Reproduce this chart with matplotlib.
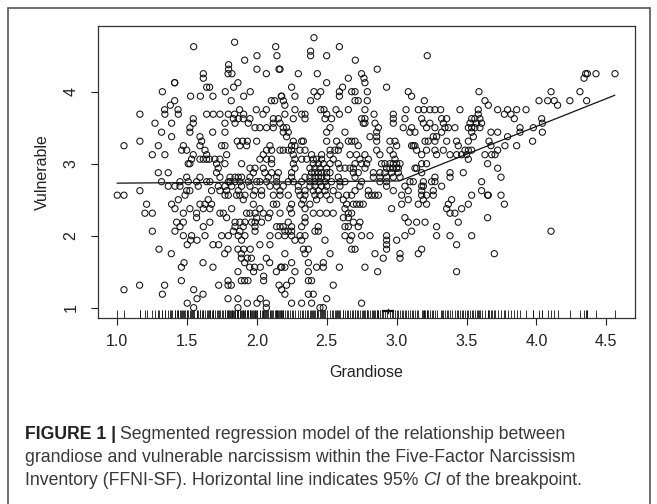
import numpy as np
import matplotlib.pyplot as plt

# Grandiose (x) / Vulnerable (y) scores

upper_left = [
    (1.547, 4.625), (1.84, 4.6875), (2.134, 4.625), (2.143, 4.5), (2.0, 4.5), (1.912, 4.4375),
    (1.797, 4.375), (1.797, 4.3125), (1.821, 4.25), (1.793, 4.25), (2.0, 4.3125), (2.067, 4.25),
    (2.158, 4.3125), (1.616, 4.25), (1.616, 4.1875), (1.411, 4.125), (1.411, 4.125), (1.864, 4.125),
    (1.64, 4.0625), (1.661, 4.0625), (1.685, 3.9375), (1.833, 4.0625), (1.773, 4.0), (1.323, 4.0),
    (1.525, 3.9375), (1.595, 3.9375), (1.952, 4.0), (1.905, 3.9375), (1.816, 3.875), (1.411, 3.875),
    (1.38, 3.8125), (1.339, 3.75), (1.435, 3.75), (1.876, 3.75), (1.995, 3.75), (2.067, 3.75),
    (2.103, 3.875), (2.127, 3.875), (2.174, 3.9375), (1.84, 3.6875), (1.905, 3.6875), (2.043, 3.6875),
    (1.0, 2.5625),
]

# left band: vulnerable level -> grandiose values on that row
left_rows = [
    (3.6875, [1.162, 1.341, 1.437, 1.640, 1.687, 1.735, 1.795]),
    (3.625, [1.544]),
    (3.5625, [1.270, 1.389, 1.544, 1.771]),
    (3.5, [1.52]),
    (3.4375, [1.317, 1.52, 1.683, 1.771]),
    (3.375, [1.389, 1.592]),
    (3.3125, [1.162, 1.604]),
    (3.25, [1.048, 1.294, 1.473, 1.592, 1.747, 1.771]),
    (3.1875, [1.461, 1.497, 1.628]),
    (3.125, [1.251, 1.341, 1.544, 1.640, 1.783]),
    (3.0625, [1.532, 1.592, 1.616, 1.640, 1.659, 1.699, 1.735]),
    (3.0, [1.508, 1.52, 1.711, 1.771]),
    (2.9375, [1.723]),
    (2.875, [1.294, 1.365, 1.711]),
    (2.8125, [1.497, 1.592, 1.735]),
    (2.75, [1.317, 1.449, 1.508, 1.568, 1.640, 1.663, 1.795]),
    (2.6875, [1.365, 1.413, 1.449, 1.580, 1.723, 1.771]),
    (2.625, [1.162, 1.497, 1.52, 1.675, 1.735, 1.783]),
    (2.5625, [1.048, 1.485, 1.771, 1.795]),
    (2.5, [1.437, 1.651]),
    (2.4375, [1.210, 1.389, 1.592, 1.628, 1.675]),
    (2.375, [1.413, 1.52, 1.616, 1.663]),
    (2.3125, [1.198, 1.251, 1.473, 1.568, 1.735, 1.759]),
    (2.25, [1.568, 1.783]),
    (2.1875, [1.425, 1.473, 1.663]),
    (2.125, [1.449, 1.616]),
    (2.0625, [1.251, 1.413]),
    (2.0, [1.473, 1.532, 1.628, 1.747, 1.795]),
]

lower_left = [
    (1.525, 1.9375), (1.571, 1.9375), (1.299, 1.8125), (1.387, 1.75), (1.501, 1.875), (1.478, 1.625),
    (1.459, 1.5625), (1.614, 1.625), (1.685, 1.5625), (1.685, 1.875), (1.726, 1.875), (1.769, 1.75),
    (1.793, 1.8125), (1.864, 1.8125), (1.905, 1.8125), (1.952, 1.8125), (1.888, 1.75), (1.888, 1.6875),
    (1.931, 1.6875), (1.96, 1.6875), (1.912, 1.625), (1.948, 1.5625), (1.983, 1.5625), (2.067, 1.6875),
    (2.091, 1.625), (2.024, 1.5625), (1.864, 1.5), (1.976, 1.5), (2.139, 1.5), (2.17, 1.5625),
    (2.048, 1.4375), (2.048, 1.375), (1.888, 1.375), (1.912, 1.375), (1.936, 1.375), (1.726, 1.3125),
    (1.793, 1.3125), (1.816, 1.3125), (1.793, 1.375), (1.048, 1.25), (1.16, 1.3125), (1.323, 1.1875),
    (1.339, 1.3125), (1.459, 1.375), (1.547, 1.25), (1.571, 1.125), (1.614, 1.1875), (1.501, 1.0625),
    (1.547, 1.0), (1.793, 1.125), (1.864, 1.125), (1.931, 1.0625), (1.864, 1.0), (2.0, 1.0625),
    (2.024, 1.125), (2.067, 1.0625), (2.067, 1.0), (2.158, 1.3125),
]

upper_mid = [
    (2.408, 4.75), (2.59, 4.625), (2.384, 4.5625), (2.384, 4.5), (2.499, 4.5), (2.704, 4.4375),
    (3.219, 4.5), (2.165, 4.3125), (2.296, 4.25), (2.432, 4.25), (2.654, 4.1875), (2.749, 4.25),
    (2.766, 4.1875), (2.773, 4.125), (2.861, 4.3125), (2.499, 4.125), (2.248, 4.0625), (2.613, 4.0625),
    (2.928, 4.0625), (2.408, 4.0), (2.456, 4.0), (2.432, 3.9375), (2.59, 4.0), (2.59, 3.9375),
    (2.678, 4.0), (2.702, 4.0), (2.79, 4.0), (2.702, 3.875), (2.725, 3.875), (2.79, 3.875),
    (2.384, 3.875), (2.177, 3.9375), (2.189, 3.875), (2.2, 3.8125), (2.272, 3.9375), (3.083, 4.0),
    (3.107, 3.9375), (3.198, 3.875), (2.272, 3.75), (2.32, 3.6875), (2.344, 3.6875), (2.456, 3.75),
    (2.48, 3.75), (2.499, 3.6875), (2.566, 3.75), (2.59, 3.6875), (2.654, 3.75), (2.773, 3.75),
    (2.838, 3.6875), (2.976, 3.6875), (3.067, 3.75), (3.155, 3.75), (3.195, 3.75), (3.238, 3.75),
    (3.274, 3.75), (3.315, 3.75), (3.453, 3.75), (2.2, 3.6875), (3.584, 3.75), (3.584, 3.6875),
    (3.589, 4.0), (3.596, 3.625),
]

lower_mid = [
    (2.332, 1.8125), (2.368, 1.8125), (2.678, 1.8125), (2.702, 1.8125), (2.928, 1.8125), (3.179, 1.8125),
    (2.2, 1.75), (2.344, 1.75), (2.523, 1.75), (2.845, 1.75), (3.024, 1.75), (3.155, 1.75),
    (2.904, 1.6875), (3.024, 1.6875), (2.248, 1.625), (2.368, 1.625), (2.475, 1.625), (2.177, 1.5625),
    (2.2, 1.5625), (2.427, 1.5625), (2.475, 1.5625), (2.59, 1.5625), (2.773, 1.5625), (2.272, 1.5),
    (2.368, 1.5), (2.864, 1.5), (3.429, 1.5), (2.248, 1.375), (2.368, 1.375), (2.391, 1.375),
    (2.212, 1.3125), (2.546, 1.3125), (2.177, 1.25), (2.2, 1.1875), (2.368, 1.1875), (2.403, 1.1875),
    (2.499, 1.125), (2.248, 1.0625), (2.32, 1.0625), (2.391, 1.0625), (2.749, 1.0625), (2.451, 1.0),
    (2.475, 1.0),
]

right_side = [
    (4.353, 4.25), (4.365, 4.25), (4.341, 4.1875), (4.427, 4.25), (4.563, 4.25), (4.105, 4.0),
    (4.312, 4.0), (3.632, 3.875), (3.656, 3.8125), (4.019, 3.875), (4.081, 3.875), (4.128, 3.875),
    (4.152, 3.8125), (4.24, 3.875), (4.36, 3.875), (3.723, 3.75), (3.771, 3.6875), (3.794, 3.75),
    (3.818, 3.6875), (3.859, 3.75), (3.842, 3.625), (3.926, 3.75), (3.675, 3.4375), (3.723, 3.4375),
    (3.794, 3.375), (3.883, 3.5), (3.883, 3.4375), (3.978, 3.5), (4.038, 3.625), (4.043, 3.5625),
    (4.043, 3.4375), (3.661, 3.3125), (3.675, 3.25), (3.723, 3.1875), (3.775, 3.25), (3.859, 3.25),
    (3.973, 3.3125), (3.632, 3.125), (3.68, 3.125), (3.704, 3.125), (3.651, 3.0), (3.723, 2.9375),
    (3.747, 2.8125), (3.651, 2.5625), (3.656, 2.5625), (3.747, 2.5625), (3.771, 2.4375), (3.651, 2.25),
    (4.105, 2.0625), (3.699, 1.75),
]

# dense middle band: vulnerable level -> grandiose values on that row
center_rows = [
    (3.625, [1.831, 1.866, 1.902, 1.950, 2.117, 2.153, 2.260, 2.344, 2.487, 2.534,
             2.749, 2.773, 2.976, 3.059, 3.179, 3.322, 3.358, 3.537, 3.560]),
    (3.5625, [1.843, 1.938, 2.117, 2.165, 2.761, 2.773, 2.845, 2.976, 3.191, 3.238, 3.334,
              3.525, 3.572, 3.608]),
    (3.5, [1.986, 2.021, 2.069, 2.117, 2.188, 2.212, 2.523, 2.869, 3.047, 3.107, 3.214, 3.274,
           3.346, 3.370, 3.417, 3.513, 3.537, 3.560, 3.596]),
    (3.4375, [2.188, 2.224, 2.499, 2.630, 2.857, 3.095, 3.131, 3.322, 3.537]),
    (3.375, [2.212, 2.809, 2.857, 3.262, 3.286, 3.549]),
    (3.3125, [1.859, 1.897, 1.931, 1.998, 2.260, 2.320, 2.332, 2.499, 2.570, 2.654, 2.678,
              2.702, 2.857, 2.952, 2.988, 3.203, 3.226, 3.274, 3.358, 3.429, 3.513]),
    (3.25, [1.878, 1.926, 2.093, 2.248, 2.272, 2.594, 2.725, 3.000, 3.107, 3.119, 3.131, 3.441]),
    (3.1875, [2.069, 2.105, 2.165, 2.188, 2.224, 2.248, 2.308, 2.344, 2.523, 2.558, 2.582,
              2.857, 2.952, 3.143, 3.214, 3.274, 3.334, 3.489, 3.513, 3.537]),
    (3.125, [2.045, 2.260, 2.391, 2.463, 2.523, 2.666, 2.713, 2.773, 2.880, 2.976, 3.179, 3.286,
             3.382, 3.429, 3.465, 3.501]),
    (3.0625, [2.021, 2.069, 2.105, 2.272, 2.320, 2.356, 2.403, 2.427, 2.463, 2.546,
              2.737, 2.797, 2.988, 3.513]),
    (3.0, [1.890, 2.105, 2.260, 2.403, 2.439, 2.475, 2.523, 2.582, 2.702, 2.749, 2.785, 2.892,
           2.916, 2.952, 2.976, 3.000, 3.024, 3.179, 3.214]),
    (2.9375, [1.950, 1.986, 2.045, 2.272, 2.379, 2.415, 2.451, 2.499, 2.594, 2.630, 2.666, 2.690,
              2.773, 2.928, 2.952, 2.976, 3.000, 3.012, 3.131, 3.143]),
    (2.875, [1.974, 2.057, 2.105, 2.153, 2.248, 2.391, 2.415, 2.439, 2.463, 2.499, 2.523, 2.690,
             2.725, 2.833, 2.880, 2.916, 2.964, 3.012, 3.179, 3.382, 3.477]),
    (2.8125, [1.807, 1.843, 1.866, 1.890, 1.950, 2.081, 2.141, 2.248, 2.344, 2.379, 2.415, 2.439,
              2.463, 2.499, 2.582, 2.702, 2.833, 2.880, 2.928, 2.976, 3.024, 3.274, 3.382]),
    (2.75, [1.807, 1.843, 1.878, 1.938, 1.998, 2.021, 2.069, 2.141, 2.224, 2.260, 2.320, 2.379,
            2.415, 2.451, 2.487, 2.534, 2.594, 2.630, 2.749, 2.880, 2.928, 3.095, 3.119, 3.191,
            3.250, 3.274, 3.608]),
    (2.6875, [1.819, 1.890, 1.950, 2.093, 2.141, 2.188, 2.296, 2.379, 2.415, 2.463, 2.499, 2.594,
              2.737, 2.928, 3.059, 3.179, 3.191, 3.322]),
    (2.625, [1.866, 1.986, 2.033, 2.165, 2.296, 2.344, 2.403, 2.439, 2.487, 2.546,
             2.702, 2.797, 2.976, 3.083, 3.179, 3.262, 3.608]),
    (2.5625, [1.854, 1.878, 1.914, 1.974, 2.033, 2.117, 2.165, 2.224, 2.308, 2.344, 2.415, 2.451,
              2.499, 2.582, 2.642, 2.678, 2.797, 2.821, 2.845, 2.869, 3.036, 3.179, 3.214, 3.262,
              3.537]),
    (2.5, [1.902, 2.332, 2.427, 2.523, 2.618, 3.083, 3.191, 3.393]),
    (2.4375, [1.974, 2.117, 2.141, 2.248, 2.320, 2.379, 2.642, 2.690, 2.713, 2.737, 2.761, 3.036,
              3.155, 3.214, 3.370, 3.513]),
    (2.375, [1.819, 2.021, 2.236, 2.344, 2.630, 2.964, 3.358, 3.465]),
    (2.3125, [1.926, 1.950, 1.986, 2.045, 2.093, 2.165, 2.248, 2.403, 2.451, 2.499, 2.546, 2.654,
              2.678, 3.382, 3.417]),
    (2.25, [1.998, 2.081, 2.344, 2.618, 2.654, 3.059]),
    (2.1875, [1.843, 1.878, 1.914, 1.962, 1.986, 2.033, 2.224, 2.344, 2.690, 2.737, 3.083, 3.143,
              3.203, 3.441]),
    (2.125, [1.843, 1.902, 1.986, 2.141, 2.165, 2.188, 2.248, 2.320, 2.439, 2.630, 2.654, 2.725,
             3.286]),
    (2.0625, [1.831, 1.878, 1.986, 2.200, 2.224, 2.248, 2.415, 2.439, 3.107]),
    (2.0, [1.866, 1.914, 2.093, 2.153, 2.200, 2.248, 2.308, 2.344, 2.630, 2.678, 2.749, 2.809,
           2.928, 3.059, 3.286, 3.382, 3.537]),
    (1.9375, [1.890, 2.272, 2.320, 2.487, 2.666, 2.928, 3.000]),
    (1.875, [2.021, 2.093, 2.928, 3.429]),
]

# segmented regression fit and breakpoint CI
fit_x = [1.0, 3.02, 4.56]
fit_y = [2.73, 2.76, 3.95]
ci_x = [2.90, 2.975]
ci_est = 2.938

xticks = [1.0, 1.5, 2.0, 2.5, 3.0, 3.5, 4.0, 4.5]
yticks = [1, 2, 3, 4]

pts = upper_left + lower_left + upper_mid + lower_mid + right_side
for v, xs in left_rows + center_rows:
    pts += [(x, v) for x in xs]
grand = np.array([p[0] for p in pts])
vuln = np.array([p[1] for p in pts])

plt.rcParams['font.family'] = ['Liberation Sans', 'DejaVu Sans']
fig = plt.figure(figsize=(6.57, 5.04), dpi=100)

ax = fig.add_axes([0.1487, 0.3685, 0.8178, 0.5799])
ax.scatter(grand, vuln, s=20, facecolors='none', edgecolors='#111111', linewidths=0.75, zorder=3)
ax.plot(fit_x, fit_y, color='#111111', lw=0.9, zorder=4)

# rug of grandiose values along the bottom
ax.vlines(np.unique(grand), 0, 0.028, transform=ax.get_xaxis_transform(),
          color='#111111', lw=0.6)
ax.plot(ci_x, [0.95, 0.95], color='#111111', lw=1.6, zorder=5)
ax.plot([ci_est, ci_est], [0.925, 0.975], color='#111111', lw=1.0, zorder=5)

ax.set_xlim(0.860, 4.706)
ax.set_ylim(0.853, 4.9125)
ax.set_xticks(xticks)
ax.set_xticklabels([f'{t:.1f}' for t in xticks])
ax.set_yticks(yticks)
ax.set_yticklabels([str(t) for t in yticks], rotation=90, va='center')
ax.tick_params(axis='both', length=5, width=0.8, labelsize=11.5, color='#222222',
               labelcolor='#222222')
ax.tick_params(axis='x', pad=6)
ax.tick_params(axis='y', pad=9)
for sp in ax.spines.values():
    sp.set_linewidth(0.9)
    sp.set_color('#333333')

fig.text(0.557, 0.26, 'Grandiose', ha='center', va='center', fontsize=11.5, color='#222222')
fig.text(0.064, 0.659, 'Vulnerable', ha='center', va='center', rotation=90,
         fontsize=11.5, color='#222222')

# caption
cap_fs = 12.7
cap_col = '#383838'
fig.canvas.draw()
r = fig.canvas.get_renderer()
x0 = 25 / 657
t1 = fig.text(x0, 0.137, 'FIGURE 1 |', fontsize=cap_fs, fontweight='bold', color='#222222', va='center')
bb = t1.get_window_extent(r).transformed(fig.transFigure.inverted())
fig.text(bb.x1 + 0.006, 0.137, 'Segmented regression model of the relationship between',
         fontsize=cap_fs, color=cap_col, va='center')
fig.text(x0, 0.0913, 'grandiose and vulnerable narcissism within the Five-Factor Narcissism',
         fontsize=cap_fs, color=cap_col, va='center')
t3 = fig.text(x0, 0.0476, 'Inventory (FFNI-SF). Horizontal line indicates 95% ',
              fontsize=cap_fs, color=cap_col, va='center')
bb = t3.get_window_extent(r).transformed(fig.transFigure.inverted())
t4 = fig.text(bb.x1, 0.0476, 'CI', fontsize=cap_fs, style='italic', color=cap_col, va='center')
bb = t4.get_window_extent(r).transformed(fig.transFigure.inverted())
fig.text(bb.x1, 0.0476, ' of the breakpoint.', fontsize=cap_fs, color=cap_col, va='center')

# outer frame of the figure panel
fig.add_artist(plt.Rectangle((8 / 657, -0.1), 642 / 657, 1.1 - 8.3 / 504, transform=fig.transFigure,
                             fill=False, edgecolor='#555555', lw=1.2))

fig.savefig('out.png', dpi=100)
